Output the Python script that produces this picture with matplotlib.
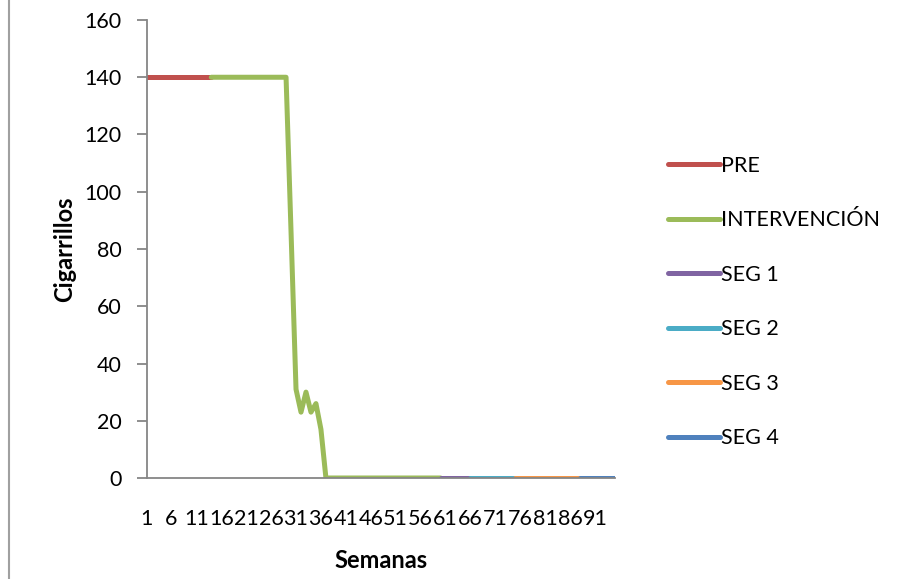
import numpy as np
import matplotlib.pyplot as plt
from matplotlib.lines import Line2D

plt.rcParams['font.family'] = ['Lato', 'DejaVu Sans']

# weeks where each phase starts, and its weekly values (cigarettes)
pre_start = 1
pre_values = [140, 140, 140, 140, 140, 140, 140, 140, 140, 140, 140, 140, 140, 140]
int_start = 14
int_values = [140, 140, 140, 140, 140, 140, 140, 140, 140, 140, 140, 140, 140, 140, 140, 140,
              86, 31, 23, 30, 23, 26, 17,
              0, 0, 0, 0, 0, 0, 0, 0, 0, 0, 0, 0, 0, 0, 0, 0, 0, 0, 0, 0, 0, 0, 0, 0]
seg1_start = 60
seg1_values = [0, 0, 0, 0, 0, 0, 0]
seg2_start = 66
seg2_values = [0, 0, 0, 0, 0, 0, 0, 0, 0, 0]
seg3_start = 75
seg3_values = [0, 0, 0, 0, 0, 0, 0, 0, 0, 0, 0, 0, 0, 0]
seg4_start = 88
seg4_values = [0, 0, 0, 0, 0, 0, 0, 0]

series = [
    ('PRE', pre_start, pre_values, '#C0504D'),
    ('INTERVENCIÓN', int_start, int_values, '#9BBB59'),
    ('SEG 1', seg1_start, seg1_values, '#8064A2'),
    ('SEG 2', seg2_start, seg2_values, '#4BACC6'),
    ('SEG 3', seg3_start, seg3_values, '#F79646'),
    ('SEG 4', seg4_start, seg4_values, '#4F81BD'),
]
n_weeks = 95
xtick_weeks = np.arange(1, n_weeks + 1, 5)

W, H = 902, 579
fig = plt.figure(figsize=(W / 100, H / 100), dpi=100)
ax = fig.add_axes([146.5 / W, 101 / H, (615 - 146.5) / W, 458 / H])

for name, start, vals, color in series:
    x = np.arange(start, start + len(vals))
    ax.plot(x, vals, color=color, lw=3.6, label=name, solid_capstyle='round',
            solid_joinstyle='round')

gray = '#868686'
ax.set_xlim(1, n_weeks)
ax.set_ylim(0, 160)
ax.set_yticks(np.arange(0, 161, 20))
ax.set_xticks(xtick_weeks)
ax.set_xticklabels([str(w) for w in xtick_weeks])
for s in ['top', 'right']:
    ax.spines[s].set_visible(False)
for s in ['left', 'bottom']:
    ax.spines[s].set_color(gray)
    ax.spines[s].set_linewidth(1.3)
ax.tick_params(axis='y', length=7, width=1.3, color=gray, labelsize=15.5, pad=11)
ax.tick_params(axis='x', length=0, labelsize=15.5, pad=22)

ax.set_ylabel('Cigarrillos', fontsize=17, fontweight='bold', labelpad=6)
ax.set_xlabel('Semanas', fontsize=17, fontweight='bold', labelpad=15)

fig.legend(loc='center left', bbox_to_anchor=(668 / W, 1 - 302 / H), frameon=False,
           fontsize=15.5, handlelength=2.42, handletextpad=0.05, labelspacing=1.6,
           borderpad=0, borderaxespad=0)

fig.add_artist(Line2D([9 / W, 9 / W], [0, 1], color='#A0A0A0', lw=1.5))

fig.savefig('out.png', dpi=100)
